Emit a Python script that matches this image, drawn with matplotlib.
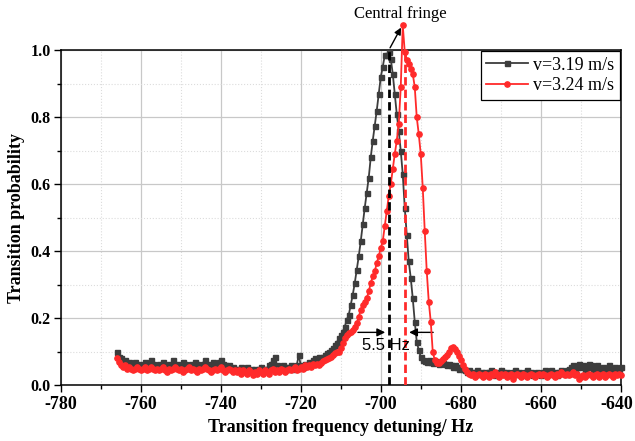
import matplotlib
matplotlib.use("Agg")
from matplotlib import pyplot as plt
from matplotlib.ticker import MultipleLocator, FuncFormatter
import numpy as np

plt.rcParams['font.family'] = ['Liberation Serif', 'DejaVu Serif']
plt.rcParams['font.weight'] = 'bold'
plt.rcParams['axes.unicode_minus'] = False

# detuning grid (Hz), 0.5 Hz step, same for both runs
freq = np.arange(-766.0, -639.75, 0.5)

# v=3.19 m/s
p_slow = [
    # -766 .. -714.5 background
    0.10, 0.085, 0.08, 0.07, 0.075, 0.065, 0.07, 0.06, 0.065, 0.07,
    0.06, 0.065, 0.055, 0.06, 0.07, 0.065, 0.06, 0.075, 0.065, 0.06,
    0.055, 0.065, 0.06, 0.07, 0.06, 0.055, 0.065, 0.06, 0.075, 0.06,
    0.065, 0.055, 0.06, 0.07, 0.065, 0.055, 0.06, 0.065, 0.06, 0.07,
    0.065, 0.06, 0.055, 0.065, 0.075, 0.06, 0.065, 0.06, 0.07, 0.065,
    0.06, 0.07, 0.075, 0.065, 0.06, 0.055, 0.06, 0.05, 0.055, 0.05,
    0.045, 0.05, 0.055, 0.045, 0.05, 0.055, 0.045, 0.05, 0.04, 0.05,
    0.045, 0.05, 0.055, 0.05, 0.045, 0.05, 0.06, 0.065, 0.075, 0.085,
    0.06, 0.055, 0.05, 0.06, 0.055, 0.05, 0.055, 0.06, 0.05, 0.055,
    0.06, 0.09, 0.06, 0.055, 0.065, 0.06, 0.07, 0.065, 0.075, 0.08,
    0.075, 0.085, 0.08, 0.085,
    # -714 .. -689 peak
    0.09, 0.095, 0.10, 0.105, 0.11, 0.12, 0.127, 0.14, 0.15, 0.16,
    0.175, 0.195, 0.21, 0.24, 0.27, 0.305, 0.345, 0.385, 0.43, 0.48,
    0.53, 0.575, 0.62, 0.68, 0.73, 0.775, 0.82, 0.87, 0.92, 0.95,
    0.985, 0.985, 0.995, 0.975, 0.93, 0.87, 0.81, 0.76, 0.70, 0.63,
    0.53, 0.45, 0.37, 0.32, 0.26, 0.19, 0.13, 0.105, 0.085, 0.075,
    0.072,
    # -688.5 .. -640 background
    0.07, 0.075, 0.07, 0.068, 0.072, 0.07, 0.065, 0.07, 0.068, 0.065,
    0.06, 0.065, 0.06, 0.055, 0.06, 0.055, 0.05, 0.055, 0.048, 0.045,
    0.04, 0.045, 0.04, 0.035, 0.04, 0.045, 0.035, 0.04, 0.03, 0.04,
    0.035, 0.04, 0.045, 0.035, 0.03, 0.04, 0.035, 0.045, 0.04, 0.035,
    0.04, 0.035, 0.03, 0.04, 0.045, 0.035, 0.04, 0.03, 0.035, 0.04,
    0.045, 0.035, 0.04, 0.03, 0.035, 0.04, 0.035, 0.03, 0.04, 0.045,
    0.035, 0.04, 0.045, 0.035, 0.04, 0.03, 0.04, 0.045, 0.04, 0.035,
    0.045, 0.05, 0.055, 0.06, 0.05, 0.055, 0.065, 0.055, 0.06, 0.05,
    0.055, 0.065, 0.06, 0.05, 0.055, 0.06, 0.045, 0.05, 0.055, 0.045,
    0.05, 0.06, 0.045, 0.05, 0.055, 0.045, 0.05, 0.055,
]

# v=3.24 m/s
p_fast = [
    # -766 .. -716.5 background
    0.08, 0.07, 0.06, 0.055, 0.06, 0.05, 0.055, 0.05, 0.045, 0.05,
    0.055, 0.05, 0.045, 0.05, 0.055, 0.045, 0.05, 0.055, 0.05, 0.045,
    0.05, 0.045, 0.05, 0.055, 0.045, 0.04, 0.05, 0.045, 0.05, 0.055,
    0.05, 0.045, 0.05, 0.04, 0.045, 0.05, 0.055, 0.045, 0.05, 0.045,
    0.04, 0.05, 0.045, 0.05, 0.055, 0.05, 0.045, 0.04, 0.045, 0.05,
    0.045, 0.05, 0.055, 0.045, 0.04, 0.045, 0.05, 0.045, 0.04, 0.045,
    0.04, 0.045, 0.035, 0.045, 0.04, 0.035, 0.045, 0.04, 0.03, 0.04,
    0.035, 0.045, 0.04, 0.035, 0.045, 0.04, 0.035, 0.045, 0.05, 0.04,
    0.045, 0.04, 0.05, 0.045, 0.04, 0.045, 0.05, 0.045, 0.05, 0.055,
    0.045, 0.05, 0.055, 0.05, 0.06, 0.055, 0.06, 0.055, 0.065, 0.06,
    # -716 .. -694.5 rising edge
    0.065, 0.06, 0.068, 0.072, 0.075, 0.078, 0.082, 0.085, 0.09, 0.095,
    0.10, 0.10, 0.11, 0.125, 0.14, 0.15, 0.155, 0.16, 0.165, 0.175,
    0.185, 0.205, 0.225, 0.24, 0.25, 0.26, 0.28, 0.305, 0.325, 0.34,
    0.365, 0.385, 0.41, 0.43, 0.475, 0.52, 0.565, 0.60, 0.645, 0.69,
    0.73, 0.78, 0.89, 1.075,
    # -694 .. -678.5 falling edge and side bump
    0.995, 0.97, 0.96, 0.945, 0.93, 0.89, 0.80, 0.75, 0.69, 0.59,
    0.46, 0.34, 0.25, 0.19, 0.10, 0.075, 0.068, 0.066, 0.072, 0.078,
    0.085, 0.09, 0.10, 0.11, 0.113, 0.108, 0.10, 0.088, 0.075, 0.062,
    0.048, 0.04,
    # -678 .. -640 background
    0.035, 0.03, 0.035, 0.025, 0.03, 0.035, 0.03, 0.025, 0.035, 0.03,
    0.025, 0.035, 0.03, 0.04, 0.03, 0.025, 0.035, 0.03, 0.035, 0.025,
    0.03, 0.035, 0.02, 0.03, 0.035, 0.03, 0.025, 0.035, 0.03, 0.025,
    0.03, 0.035, 0.03, 0.025, 0.03, 0.035, 0.03, 0.035, 0.03, 0.025,
    0.03, 0.035, 0.03, 0.025, 0.035, 0.03, 0.04, 0.035, 0.03, 0.035,
    0.03, 0.035, 0.04, 0.03, 0.035, 0.02, 0.025, 0.03, 0.025, 0.03,
    0.035, 0.03, 0.025, 0.03, 0.035, 0.025, 0.03, 0.035, 0.025, 0.03,
    0.035, 0.03, 0.025, 0.035, 0.03, 0.035, 0.03,
]

labels = ['v=3.19 m/s', 'v=3.24 m/s']
centre_slow = -697.9
centre_fast = -693.9
shift_text = '5.5 Hz'
x_range = (-780, -640)

fig = plt.figure(figsize=(6.35, 4.41), dpi=100)
ax = fig.add_axes([0.0956, 0.1263, 0.882, 0.7597])

ax.grid(which='major', color='#c8c8c8', lw=0.9, ls='-')
ax.grid(which='minor', color='#dcdcdc', lw=0.8, ls=':')
ax.set_axisbelow(True)

ax.plot(freq, p_slow, '-s', color='#3d3d3d', lw=1.3, ms=3.6, label=labels[0], clip_on=False, zorder=3)
ax.plot(freq, p_fast, '-o', color='#ff2a2a', lw=1.3, ms=3.8, label=labels[1], clip_on=False, zorder=4)

ax.plot([centre_slow, centre_slow], [0, 1.0], color='black', lw=2, ls=(0, (3, 1.5)), zorder=5)
ax.plot([centre_fast, centre_fast], [0, 1.0], color='#ff2a2a', lw=2, ls=(0, (3, 1.5)), zorder=5)

# shift arrows
ax.annotate('', xy=(-698.2, 0.158), xytext=(-706.4, 0.158),
            arrowprops=dict(arrowstyle='-|>', color='black', lw=1, mutation_scale=12))
ax.annotate('', xy=(-693.6, 0.158), xytext=(-686.2, 0.158),
            arrowprops=dict(arrowstyle='-|>', color='black', lw=1, mutation_scale=12))
ax.text(-698.7, 0.12, shift_text, family=['Liberation Sans', 'DejaVu Sans'], fontsize=12,
        fontweight='normal', ha='center', va='center', zorder=6)

# central fringe pointer
ax.annotate('', xy=(-694.6, 1.075), xytext=(-698.0, 1.0),
            arrowprops=dict(arrowstyle='-|>', color='black', lw=1, mutation_scale=10),
            annotation_clip=False)
ax.text(-695.0, 1.108, 'Central fringe', fontsize=12, fontweight='normal', ha='center', va='center')

ax.set_xlim(*x_range)
ax.set_ylim(0, 1.0)
ax.xaxis.set_major_locator(MultipleLocator(20))
ax.xaxis.set_minor_locator(MultipleLocator(10))
ax.yaxis.set_major_locator(MultipleLocator(0.2))
ax.yaxis.set_minor_locator(MultipleLocator(0.1))
# last label is drawn separately, nudged left so it is not cut at the edge
ax.xaxis.set_major_formatter(FuncFormatter(lambda v, p: '' if v >= x_range[1] else '%d' % v))
ax.tick_params(which='major', direction='out', length=5, width=1)
ax.tick_params(which='minor', direction='out', length=3, width=1)
ax.tick_params(axis='x', labelsize=13, pad=2.5)
ax.tick_params(axis='y', labelsize=11.5, pad=2)
ax.annotate('%d' % x_range[1], xy=(x_range[1], 0), xycoords=('data', 'axes fraction'),
            xytext=(-3, -7.5), textcoords='offset points', ha='center', va='top',
            fontsize=13, fontweight='bold', annotation_clip=False)
for sp in ax.spines.values():
    sp.set_linewidth(1.1)

ax.set_xlabel('Transition frequency detuning/ Hz', fontsize=13, fontweight='bold', labelpad=4.5)
ax.set_ylabel('Transition probability', fontsize=13, fontweight='bold', labelpad=4)

leg = ax.legend(loc='upper right', prop=dict(size=13, weight='normal'), frameon=True, fancybox=False,
                edgecolor='black', framealpha=1, borderaxespad=0.05,
                handlelength=2.3, handletextpad=0.3, borderpad=0.3, labelspacing=0.2)
leg.get_frame().set_linewidth(0.9)

fig.savefig('out.png', dpi=100)
